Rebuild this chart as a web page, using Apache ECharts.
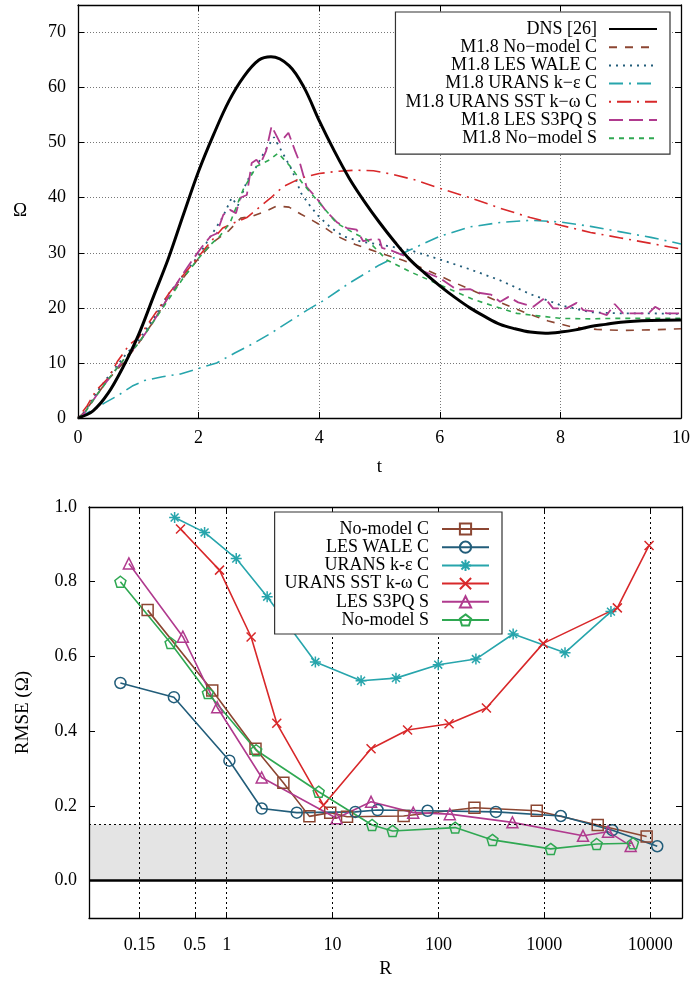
<!DOCTYPE html>
<html>
<head>
<meta charset="utf-8">
<script src="https://cdn.jsdelivr.net/npm/echarts@6/dist/echarts.min.js"></script>
<style>html,body{margin:0;padding:0;background:#fff}#main{width:694px;height:981px}</style>
</head>
<body>
<div id="main"></div>
<script>
// ---- top panel: Omega(t) ----
var dnsT = [0,0.25,0.5,0.75,1.0,1.25,1.5,1.75,2.0,2.25,2.5,2.75,3.0,3.2,3.5,3.75,4.0,4.25,4.5,4.75,5.0,5.25,5.5,5.75,6.0,6.25,6.5,6.75,7.0,7.25,7.5,7.75,8.0,8.25,8.5,8.75,9.0,9.5,10];
var dnsW = [0,1.3,4.5,9.3,15,22,29,37,44.8,51.5,57.5,62,65,65.6,64,60,54,48.5,43.5,39.3,35.5,32,28.8,26.3,24,21.9,20,18.4,17,16.2,15.6,15.4,15.6,16,16.6,17,17.4,17.7,17.8];

var nmcT = [0,0.1,0.3,0.5,0.75,1.0,1.25,1.5,1.75,2.0,2.25,2.5,2.7,2.9,3.1,3.3,3.5,3.7,3.9,4.1,4.3,4.6,5.0,5.4,5.8,6.2,6.6,7.0,7.4,7.8,8.2,8.6,9.0,9.5,10];
var nmcW = [0,1,4,7,10,13.5,17.5,22,25.5,29,32,34,36.3,36.7,37.5,38.5,38.3,37,35.8,34.5,33,31.5,30,28.6,26.8,24.8,22.9,21,19.2,17.6,16.5,16.1,15.9,16,16.2];

var walT = [0,0.1,0.3,0.5,0.75,1.0,1.25,1.5,1.75,2.0,2.2,2.4,2.55,2.65,2.8,2.95,3.1,3.25,3.4,3.55,3.7,3.85,4.0,4.2,4.4,4.7,5.0,5.5,6.0,6.5,7.0,7.5,8.0,8.5,9.0,9.5,10];
var walW = [0,1,4.5,7.5,11,14,18,22.5,26,29.5,33,36.5,40,38.5,43,45.5,48.5,51,48,45,40.8,38.5,36.5,34.5,33,32,31.5,30.5,28.8,27,25,22.5,20.5,19.2,19,19,18.9];

var keT = [0,0.1,0.25,0.45,0.65,0.9,1.1,1.4,1.7,2.0,2.3,2.6,2.9,3.2,3.5,3.8,4.1,4.5,5.0,5.5,6.0,6.5,7.0,7.5,8.0,8.5,9.0,9.5,10];
var keW = [0,0.6,1.5,2.8,4,5.8,6.8,7.5,8,9,10,11.8,13.5,15.4,17.5,19.6,21.5,24.5,27.8,30.5,33,34.7,35.5,35.9,35.6,34.8,33.8,32.8,31.6];

var sstT = [0,0.15,0.3,0.5,0.65,0.85,1.0,1.25,1.5,1.75,2.0,2.2,2.4,2.6,2.8,3.0,3.2,3.4,3.7,4.0,4.3,4.6,4.9,5.2,5.6,6.0,6.5,7.0,7.5,8.0,8.5,9.0,9.5,10];
var sstW = [0,2.2,5,7.2,10.2,13.3,14.5,18.5,22.5,26,29.3,32,34.5,35.5,36.4,38.2,40,42,43.6,44.4,44.8,45,44.9,44.3,43.2,41.7,40,38.1,36.4,35,33.7,32.7,31.7,30.7];

var s3T = [0,0.1,0.3,0.5,0.75,1.0,1.25,1.5,1.7,1.86,2.05,2.2,2.3,2.41,2.52,2.62,2.69,2.8,2.88,2.96,3.02,3.12,3.21,3.35,3.49,3.6,3.68,3.79,3.95,4.12,4.3,4.46,4.62,4.73,4.9,5.0,5.04,5.2,5.45,5.67,6.0,6.28,6.5,6.67,6.85,7.0,7.14,7.3,7.55,7.74,7.88,8.1,8.27,8.38,8.6,8.77,8.9,9.04,9.25,9.46,9.57,9.76,10];
var s3W = [0,0.8,4,7,10.5,13.5,17.5,22,25.5,28.1,31,33,33.5,36.9,37.8,37.2,40,40.5,46.3,46.9,46,48.5,53,50,51.8,48.5,46.3,42,40,37.5,35.5,34.5,34.2,32.1,32.5,32.4,30.9,30.4,29.3,26.9,25.4,23.3,23.4,22.7,22.4,21.1,22,21,20.2,21.8,19.9,19.9,20.9,19.6,19.3,18.7,20.7,19,19,19,20.2,19,19];

var nmsT = [0,0.1,0.3,0.5,0.75,1.0,1.25,1.5,1.75,2.0,2.2,2.35,2.52,2.74,2.96,3.18,3.32,3.52,3.74,3.96,4.29,4.57,4.79,5.12,5.5,6.0,6.56,7.28,7.99,8.5,8.93,9.5,10];
var nmsW = [0,0.8,4,7,10.5,13.5,17.5,21.5,25.5,29,31.5,33,35.4,41.5,45.7,46.9,48.1,45.7,42.4,39.6,35.4,33.6,32.4,28.7,26.6,24.2,21.5,19,18.1,18,18.1,18.1,18.1];

var topNames = ['DNS [26]','M1.8 No\u2212model C','M1.8 LES WALE C','M1.8 URANS k\u2212\u03b5 C','M1.8 URANS SST k\u2212\u03c9 C','M1.8 LES S3PQ S','M1.8 No\u2212model S'];
var topYTicks = [0,10,20,30,40,50,60,70];

// ---- bottom panel: RMSE(R) ----
var nmcR = [0.179,0.73,1.87,3.43,6.04,9.5,13.7,46.9,219,849,3198,9270];
var nmcE = [0.724,0.509,0.353,0.262,0.172,0.182,0.171,0.173,0.195,0.187,0.149,0.118];
var walR = [0.099,0.317,1.06,2.14,4.59,16.4,26.6,78.9,349,1432,4395,11670];
var walE = [0.529,0.491,0.321,0.193,0.182,0.184,0.189,0.187,0.184,0.173,0.135,0.092];
var keR = [0.322,0.618,1.23,2.41,6.88,18.6,39.7,99.6,226,508,1570,4265];
var keE = [0.972,0.932,0.862,0.760,0.585,0.535,0.542,0.578,0.593,0.66,0.61,0.72];
var sstR = [0.366,0.855,1.70,2.97,8.19,23.1,51.1,126,284,977,4900,9770];
var sstE = [0.941,0.831,0.652,0.421,0.202,0.353,0.403,0.420,0.462,0.635,0.73,0.897];
var s3R = [0.119,0.385,0.813,2.14,10.9,23.1,57.8,128,500,2323,4000,6547];
var s3E = [0.849,0.653,0.464,0.276,0.167,0.211,0.182,0.178,0.156,0.12,0.131,0.093];
var nmsR = [0.099,0.295,0.664,1.90,7.39,23.6,36.9,144,324,1151,3126,6887];
var nmsE = [0.80,0.636,0.502,0.349,0.238,0.149,0.133,0.142,0.109,0.085,0.098,0.10];

var botNames = ['No-model C','LES WALE C','URANS k-\u03b5 C','URANS SST k-\u03c9 C','LES S3PQ S','No-model S'];
var botXTicks = [0.15,0.5,1,10,100,1000,10000];
var botYTicks = [0,0.2,0.4,0.6,0.8,1.0];

var cBrown = '#8c4632', cBlue = '#225d7a', cCyan = '#27a5ac', cRed = '#d8282a', cMag = '#b03a8e', cGreen = '#2fa852';
var serif = 'Liberation Serif';

function zip(a, b) { return a.map(function (v, i) { return [v, b[i]]; }); }

var chart = echarts.init(document.getElementById('main'), null, { renderer: 'canvas' });

function mirrorAxis(grid, pos, extra) {
  return Object.assign({
    gridIndex: grid, position: pos,
    axisLine: { show: true, onZero: false, lineStyle: { color: '#000', width: 1.3 } },
    axisTick: { show: true, inside: true, length: 6, lineStyle: { color: '#000' } },
    axisLabel: { show: false }, splitLine: { show: false }
  }, extra);
}

var dotted = { color: '#777', type: [1, 2], width: 1 };
var lab = { color: '#000', fontFamily: serif, fontSize: 18 };
var nameStyle = { color: '#000', fontFamily: serif, fontSize: 19 };

function topLine(name, t, w, color, width, dash, smooth) {
  return {
    name: name, type: 'line', xAxisIndex: 0, yAxisIndex: 0,
    data: zip(t, w), symbol: 'none', showSymbol: false, smooth: smooth || false,
    lineStyle: { color: color, width: width, type: dash }, itemStyle: { color: color },
    z: smooth ? 3 : 2
  };
}
function botLine(name, r, e, color, symbol, size) {
  return {
    name: name, type: 'line', xAxisIndex: 2, yAxisIndex: 2,
    data: zip(r, e), symbol: symbol, symbolSize: size, showSymbol: true,
    lineStyle: { color: color, width: 1.6 },
    itemStyle: { color: 'rgba(0,0,0,0)', borderColor: color, borderWidth: 1.5 }
  };
}

var pentagon = 'path://M0,-1L0.951,-0.309L0.588,0.809L-0.588,0.809L-0.951,-0.309Z';
var cross = 'path://M-1,-1L1,1M-1,1L1,-1';
var star = 'path://M0,-1L0,1M-1,0L1,0M-0.72,-0.72L0.72,0.72M-0.72,0.72L0.72,-0.72';

var series = [
  topLine(topNames[0], dnsT, dnsW, '#000', 3, 'solid', 0.35),
  topLine(topNames[1], nmcT, nmcW, cBrown, 1.6, [8, 8]),
  topLine(topNames[2], walT, walW, cBlue, 1.8, [2, 5]),
  topLine(topNames[3], keT, keW, cCyan, 1.6, [14, 6, 2, 6]),
  topLine(topNames[4], sstT, sstW, cRed, 1.6, [2, 6, 14, 6]),
  topLine(topNames[5], s3T, s3W, cMag, 1.8, [14, 6]),
  topLine(topNames[6], nmsT, nmsW, cGreen, 1.6, [5, 5]),
  botLine(botNames[0], nmcR, nmcE, cBrown, 'rect', 11),
  botLine(botNames[1], walR, walE, cBlue, 'circle', 11),
  botLine(botNames[2], keR, keE, cCyan, star, 11),
  botLine(botNames[3], sstR, sstE, cRed, cross, 9),
  botLine(botNames[4], s3R, s3E, cMag, 'triangle', 11),
  botLine(botNames[5], nmsR, nmsE, cGreen, pentagon, 11)
];
// shaded band, zero line and 0.15 threshold on the lower panel
series[7].markArea = {
  silent: true,
  itemStyle: { color: 'rgba(0,0,0,0.105)' },
  data: [[{ yAxis: 0 }, { yAxis: 0.15 }]]
};
series[7].markLine = {
  silent: true, symbol: 'none', label: { show: false },
  data: [
    { yAxis: 0, lineStyle: { color: '#000', width: 2.5, type: 'solid' } },
    { yAxis: 0.15, lineStyle: { color: '#000', width: 1, type: [2, 3] } }
  ]
};

var option = {
  animation: false,
  backgroundColor: '#fff',
  grid: [
    { left: 78, width: 603, top: 5, height: 413 },
    { left: 89, width: 593, top: 507, height: 411 }
  ],
  xAxis: [
    {
      gridIndex: 0, type: 'value', min: 0, max: 10, interval: 2,
      name: 't', nameLocation: 'middle', nameGap: 40, nameTextStyle: nameStyle,
      axisLine: { onZero: false, lineStyle: { color: '#000', width: 1.3 } },
      axisTick: { inside: true, length: 6, lineStyle: { color: '#000' } },
      axisLabel: Object.assign({ margin: 11 }, lab),
      splitLine: { show: true, lineStyle: dotted }
    },
    mirrorAxis(0, 'top', { type: 'value', min: 0, max: 10, interval: 2 }),
    {
      gridIndex: 1, type: 'log', logBase: 10, min: 0.05, max: 20000,
      name: 'R', nameLocation: 'middle', nameGap: 42, nameTextStyle: nameStyle,
      axisLine: { onZero: false, lineStyle: { color: '#000', width: 1.3 } },
      axisTick: { inside: true, length: 6, customValues: botXTicks, lineStyle: { color: '#000' } },
      axisLabel: Object.assign({ margin: 18, customValues: botXTicks, formatter: function (v) { return String(+Number(v).toPrecision(4)); } }, lab),
      splitLine: { show: true, lineStyle: { color: '#000', type: [2, 3], width: 1 } }
    },
    mirrorAxis(1, 'top', { type: 'log', logBase: 10, min: 0.05, max: 20000, axisTick: { show: true, inside: true, length: 6, customValues: botXTicks, lineStyle: { color: '#000' } } })
  ],
  yAxis: [
    {
      gridIndex: 0, type: 'value', min: 0, max: 75,
      name: '\u03a9', nameLocation: 'middle', nameGap: 51, nameRotate: 0, nameTextStyle: nameStyle,
      axisLine: { show: true, onZero: false, lineStyle: { color: '#000', width: 1.3 } },
      axisTick: { show: true, inside: true, length: 6, customValues: topYTicks, lineStyle: { color: '#000' } },
      axisLabel: Object.assign({ margin: 12, customValues: topYTicks }, lab),
      splitLine: { show: true, lineStyle: dotted }
    },
    mirrorAxis(0, 'right', { type: 'value', min: 0, max: 75, axisTick: { show: true, inside: true, length: 6, customValues: topYTicks, lineStyle: { color: '#000' } } }),
    {
      gridIndex: 1, type: 'value', min: -0.1, max: 1.0,
      name: 'RMSE (\u03a9)', nameLocation: 'middle', nameGap: 56, nameTextStyle: nameStyle,
      axisLine: { show: true, onZero: false, lineStyle: { color: '#000', width: 1.3 } },
      axisTick: { show: true, inside: true, length: 6, customValues: botYTicks, lineStyle: { color: '#000' } },
      axisLabel: Object.assign({ margin: 12, customValues: botYTicks, formatter: function (v) { return Number(v).toFixed(1); } }, lab),
      splitLine: { show: false }
    },
    mirrorAxis(1, 'right', { type: 'value', min: -0.1, max: 1.0, axisTick: { show: true, inside: true, length: 6, customValues: botYTicks, lineStyle: { color: '#000' } } })
  ],
  legend: [
    {
      data: topNames, orient: 'vertical', align: 'right', right: 24, top: 12,
      padding: [8, 12, 7, 10], itemWidth: 48, itemHeight: 14, itemGap: 0.2,
      backgroundColor: '#fff', borderColor: '#333', borderWidth: 1.2,
      selectedMode: false,
      itemStyle: { color: 'rgba(0,0,0,0)', borderWidth: 0, opacity: 0 },
      textStyle: { color: '#000', fontFamily: serif, fontSize: 18, lineHeight: 18, padding: [0, 7, 0, 0] }
    },
    {
      data: botNames, orient: 'vertical', align: 'right', right: 192, top: 512,
      padding: [8, 12, 5, 10], itemWidth: 47, itemHeight: 14, itemGap: 0.2,
      backgroundColor: '#fff', borderColor: '#333', borderWidth: 1.2,
      selectedMode: false,
      textStyle: { color: '#000', fontFamily: serif, fontSize: 18, lineHeight: 18, padding: [0, 8, 0, 0] }
    }
  ],
  series: series
};
chart.setOption(option);
</script>
</body>
</html>
